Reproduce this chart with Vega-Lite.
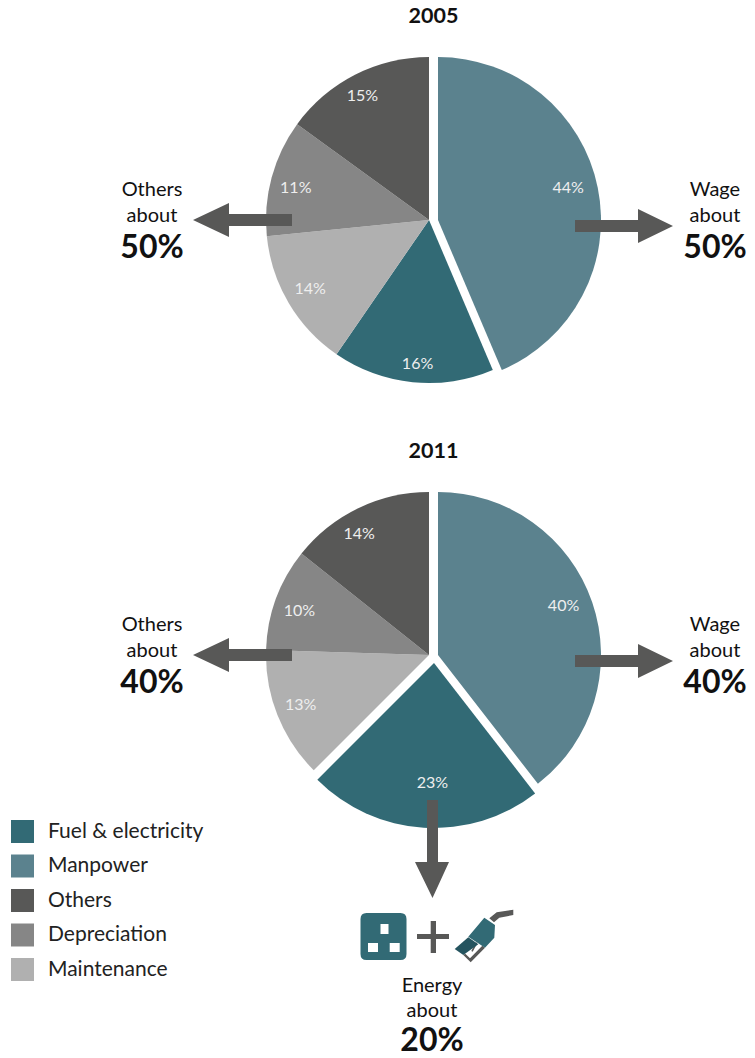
{
  "$schema": "https://vega.github.io/schema/vega-lite/v6.json",
  "width": 755,
  "height": 1058,
  "padding": 0,
  "autosize": {"type": "fit", "contains": "padding"},
  "background": "white",
  "config": {"view": {"stroke": null}, "text": {"font": "Lato"}},
  "datasets": {
    "costs": [
      {"year": "2005", "category": "Manpower", "share": 0.436, "label": "44%"},
      {"year": "2005", "category": "Fuel & electricity", "share": 0.16, "label": "16%"},
      {"year": "2005", "category": "Maintenance", "share": 0.138, "label": "14%"},
      {"year": "2005", "category": "Depreciation", "share": 0.116, "label": "11%"},
      {"year": "2005", "category": "Others", "share": 0.15, "label": "15%"},
      {"year": "2011", "category": "Manpower", "share": 0.395, "label": "40%"},
      {"year": "2011", "category": "Fuel & electricity", "share": 0.23, "label": "23%"},
      {"year": "2011", "category": "Maintenance", "share": 0.13, "label": "13%"},
      {"year": "2011", "category": "Depreciation", "share": 0.102, "label": "10%"},
      {"year": "2011", "category": "Others", "share": 0.143, "label": "14%"}
    ],
    "callouts": [
      {"year": "2005", "group": "Others", "label": "Others", "qualifier": "about", "amount": "50%"},
      {"year": "2005", "group": "Wage", "label": "Wage", "qualifier": "about", "amount": "50%"},
      {"year": "2011", "group": "Others", "label": "Others", "qualifier": "about", "amount": "40%"},
      {"year": "2011", "group": "Wage", "label": "Wage", "qualifier": "about", "amount": "40%"},
      {"year": "2011", "group": "Energy", "label": "Energy", "qualifier": "about", "amount": "20%"}
    ],
    "years": [{"year": "2005"}, {"year": "2011"}]
  },
  "encoding": {
    "y": {"field": "year", "type": "nominal", "axis": null,
      "scale": {"type": "point", "domain": ["2005", "2011"], "range": [220, 655], "padding": 0}}
  },
  "layer": [
    {
      "data": {"name": "costs"},
      "transform": [
        {"stack": "share", "groupby": ["year"], "as": ["start", "end"]}
      ],
      "encoding": {
        "x": {"datum": "Energy", "type": "nominal", "axis": null,
          "scale": {"type": "point", "domain": ["Others", "Energy", "Wage"], "range": [152, 715], "padding": 0}},
        "theta": {"field": "start", "type": "quantitative", "scale": {"domain": [0, 1], "range": [0, 6.283185307]}},
        "theta2": {"field": "end"},
        "color": {"field": "category", "type": "nominal",
          "scale": {
            "domain": ["Fuel & electricity", "Manpower", "Others", "Depreciation", "Maintenance"],
            "range": ["#326a75", "#5b828e", "#585857", "#868686", "#b0b0b0"]
          },
          "legend": {
            "orient": "none", "legendX": 11, "legendY": 820, "title": null,
            "symbolType": "square", "symbolSize": 529, "symbolStrokeWidth": 0,
            "labelFont": "Lato", "labelFontSize": 21, "labelColor": "#222222",
            "labelOffset": 14, "rowPadding": 11.5
          }
        }
      },
      "layer": [
        {
          "transform": [{"filter": "datum.category !== 'Manpower' && !(datum.category === 'Fuel & electricity' && datum.year === '2011')"}],
          "mark": {"type": "arc", "outerRadius": 163, "xOffset": -4.5}
        },
        {
          "transform": [{"filter": "datum.category === 'Manpower'"}],
          "mark": {"type": "arc", "outerRadius": 163, "xOffset": 4.5}
        },
        {
          "transform": [{"filter": "datum.category === 'Fuel & electricity' && datum.year === '2011'"}],
          "mark": {"type": "arc", "outerRadius": 165, "xOffset": 0.5, "yOffset": 8}
        }
      ]
    },
    {
      "data": {"name": "costs"},
      "transform": [
        {"stack": "share", "groupby": ["year"], "as": ["start", "end"]},
        {"fold": ["start", "end"], "as": ["edge", "turn"]},
        {"aggregate": [{"op": "mean", "field": "turn", "as": "mid"}], "groupby": ["year", "category", "label"]}
      ],
      "encoding": {
        "x": {"datum": "Energy", "type": "nominal", "axis": null,
          "scale": {"type": "point", "domain": ["Others", "Energy", "Wage"], "range": [152, 715], "padding": 0}},
        "theta": {"field": "mid", "type": "quantitative", "scale": {"domain": [0, 1], "range": [0, 6.283185307]}},
        "text": {"field": "label", "type": "nominal"}
      },
      "layer": [
        {
          "transform": [{"filter": "datum.category === 'Depreciation'"}],
          "mark": {"type": "text", "radius": 138, "xOffset": -4.5, "dy": 4, "fontSize": 16, "color": "#eeeeee", "align": "center", "baseline": "middle"}
        },
        {
          "transform": [{"filter": "datum.category === 'Maintenance'"}],
          "mark": {"type": "text", "radius": 138, "xOffset": -4.5, "dy": -1, "fontSize": 16, "color": "#eeeeee", "align": "center", "baseline": "middle"}
        },
        {
          "transform": [{"filter": "datum.category === 'Others' && datum.year === '2005'"}],
          "mark": {"type": "text", "radius": 138, "xOffset": -4.5, "dx": -4, "dy": -1, "fontSize": 16, "color": "#eeeeee", "align": "center", "baseline": "middle"}
        },
        {
          "transform": [{"filter": "datum.category === 'Others' && datum.year === '2011'"}],
          "mark": {"type": "text", "radius": 138, "xOffset": -4.5, "dx": -10, "dy": 3, "fontSize": 16, "color": "#eeeeee", "align": "center", "baseline": "middle"}
        },
        {
          "transform": [{"filter": "datum.category === 'Manpower'"}],
          "mark": {"type": "text", "radius": 138, "xOffset": -4.5, "dx": 4, "dy": -4, "fontSize": 16, "color": "#eeeeee", "align": "center", "baseline": "middle"}
        },
        {
          "transform": [{"filter": "datum.category === 'Fuel & electricity' && datum.year === '2005'"}],
          "mark": {"type": "text", "radius": 144, "xOffset": -4.5, "dx": 3, "dy": 1, "fontSize": 16, "color": "#eeeeee", "align": "center", "baseline": "middle"}
        },
        {
          "transform": [{"filter": "datum.category === 'Fuel & electricity' && datum.year === '2011'"}],
          "mark": {"type": "text", "radius": 138, "xOffset": -4.5, "dx": 12, "dy": -10, "fontSize": 16, "color": "#eeeeee", "align": "center", "baseline": "middle"}
        }
      ]
    },
    {
      "data": {"name": "years"},
      "mark": {"type": "text", "fontSize": 21.5, "fontWeight": "bold", "color": "#111111", "yOffset": -203, "align": "center", "baseline": "middle"},
      "encoding": {
        "x": {"datum": "Energy", "type": "nominal", "axis": null,
          "scale": {"type": "point", "domain": ["Others", "Energy", "Wage"], "range": [152, 715], "padding": 0}},
        "text": {"field": "year", "type": "nominal"}
      }
    },
    {
      "data": {"name": "callouts"},
      "encoding": {
        "x": {"field": "group", "type": "nominal", "axis": null,
          "scale": {"type": "point", "domain": ["Others", "Energy", "Wage"], "range": [152, 715], "padding": 0}}
      },
      "layer": [
        {
          "transform": [{"filter": "datum.group === 'Wage'"}],
          "mark": {"type": "point", "filled": true, "size": 4, "opacity": 1, "strokeWidth": 0, "color": "#585857",
            "shape": "M-140 0H-77V-11L-42 6L-77 23V12H-140Z"}
        },
        {
          "transform": [{"filter": "datum.group === 'Others'"}],
          "mark": {"type": "point", "filled": true, "size": 4, "opacity": 1, "strokeWidth": 0, "color": "#585857",
            "shape": "M41 0L77 -17V-6H140V6H77V17Z"}
        },
        {
          "transform": [{"filter": "datum.group === 'Energy'"}],
          "layer": [
            {
              "mark": {"type": "point", "filled": true, "size": 4, "opacity": 1, "strokeWidth": 0, "color": "#585857",
                "shape": "M-6.5 145H4.5V207H15.5L-1 243L-18.5 207H-6.5ZM-2.8 266H2.5V279H15.5V284H2.5V298H-2.8V284H-16.5V279H-2.8ZM55.8 263.3L63.2 257.3L79.8 254.7V260L65.8 262.7L60.5 267.3ZM29.8 300L37.2 307.3L51.5 292.7L48.8 290.7L36.5 303.3L31.8 298.7ZM42.5 287.3L43.8 288.3L39.2 296.7L37.8 296Z"}
            },
            {
              "mark": {"type": "point", "filled": true, "size": 4, "opacity": 1, "strokeWidth": 0, "color": "#326a75",
                "shape": "M-67 258H-33Q-27 258 -27 264V299Q-27 305 -33 305H-67Q-73 305 -73 299V264Q-73 258 -67 258ZM-53 269V279H-45V269ZM-65.5 288V297H-55.5V288ZM-43.8 288V297H-33.8V288ZM50.8 262.7L61.5 270L60.8 282.7L51.5 292.7L34.8 281.7Z"}
            },
            {
              "mark": {"type": "point", "filled": true, "size": 4, "opacity": 1, "strokeWidth": 0, "color": "#25545f",
                "shape": "M34.8 282.3L44.8 289.3L29.8 300L21.2 294Z"}
            }
          ]
        },
        {
          "transform": [{"filter": "datum.group !== 'Energy'"}],
          "layer": [
            {"mark": {"type": "text", "fontSize": 20, "color": "#111111", "yOffset": -30, "align": "center", "baseline": "middle"}, "encoding": {"text": {"field": "label", "type": "nominal"}}},
            {"mark": {"type": "text", "fontSize": 20, "color": "#111111", "yOffset": -4, "align": "center", "baseline": "middle"}, "encoding": {"text": {"field": "qualifier", "type": "nominal"}}},
            {"mark": {"type": "text", "fontSize": 32, "fontWeight": "bold", "color": "#111111", "yOffset": 28, "align": "center", "baseline": "middle"}, "encoding": {"text": {"field": "amount", "type": "nominal"}}}
          ]
        },
        {
          "transform": [{"filter": "datum.group === 'Energy'"}],
          "layer": [
            {"mark": {"type": "text", "fontSize": 20, "color": "#111111", "xOffset": -1.5, "yOffset": 331, "align": "center", "baseline": "middle"}, "encoding": {"text": {"field": "label", "type": "nominal"}}},
            {"mark": {"type": "text", "fontSize": 20, "color": "#111111", "xOffset": -1.5, "yOffset": 356, "align": "center", "baseline": "middle"}, "encoding": {"text": {"field": "qualifier", "type": "nominal"}}},
            {"mark": {"type": "text", "fontSize": 32, "fontWeight": "bold", "color": "#111111", "xOffset": -1.5, "yOffset": 386, "align": "center", "baseline": "middle"}, "encoding": {"text": {"field": "amount", "type": "nominal"}}}
          ]
        }
      ]
    }
  ]
}
